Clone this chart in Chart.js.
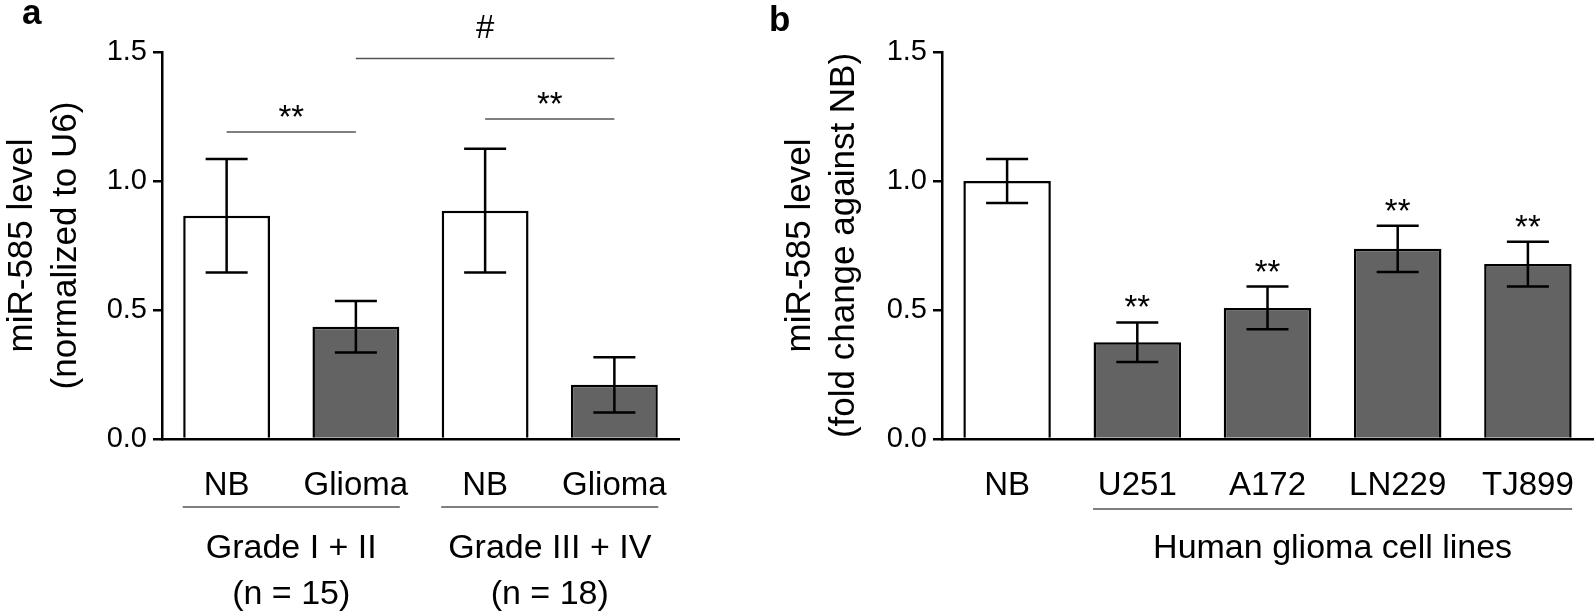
<!DOCTYPE html>
<html>
<head>
<meta charset="utf-8">
<script src="https://cdn.jsdelivr.net/npm/chart.js@4.4.1/dist/chart.umd.min.js"></script>
<style>
  html, body { margin: 0; padding: 0; background: #fff; }
  body { width: 1594px; height: 612px; position: relative; overflow: hidden; font-family: 'Liberation Sans', Arial, sans-serif; }
  .panel { position: absolute; top: 0; height: 612px; }
  .tag { position: absolute; font-weight: bold; font-size: 35px; line-height: 1; color: #000; }
</style>
</head>
<body>
<div class="panel" style="left:0; width:700px"><canvas id="chartA"></canvas></div>
<div class="panel" style="left:778px; width:816px"><canvas id="chartB"></canvas></div>
<div class="tag" style="left:22px; top:-6px">a</div>
<div class="tag" style="left:769px; top:1px">b</div>
<script>
// Panel a: miR-585 in tissue samples
const catsA = ['NB', 'Glioma', 'NB', 'Glioma'];
const meanA = [0.865, 0.435, 0.885, 0.21];
const errA = [0.22, 0.10, 0.24, 0.107];
const groupsA = [
  { from: 0, to: 1, lines: ['Grade I + II', '(n = 15)'] },
  { from: 2, to: 3, lines: ['Grade III + IV', '(n = 18)'] }
];
const sigA = [
  { from: 0, to: 1, y: 1.19, text: '**' },
  { from: 1, to: 3, y: 1.475, text: '#' },
  { from: 2, to: 3, y: 1.24, text: '**' }
];

// Panel b: miR-585 in cell lines
const catsB = ['NB', 'U251', 'A172', 'LN229', 'TJ899'];
const meanB = [1.0, 0.375, 0.508, 0.737, 0.678];
const errB = [0.085, 0.077, 0.083, 0.09, 0.087];
const starsB = ['', '**', '**', '**', '**'];
const groupsB = [{ from: 1, to: 4, lines: ['Human glioma cell lines'] }];

const yTicks = [0, 0.5, 1.0, 1.5];

const FONT = "'Liberation Sans', Arial, sans-serif";
Chart.defaults.font.family = FONT;
Chart.defaults.color = '#000';

const GRAY = '#636363';

// error bars (mean +/- err) drawn on top of the bars
const errorBars = {
  id: 'errorBars',
  afterDatasetsDraw(chart) {
    const ds = chart.data.datasets[0];
    const y = chart.scales.y;
    const ctx = chart.ctx;
    ctx.save();
    ctx.strokeStyle = '#000';
    ctx.lineWidth = 2.5;
    chart.getDatasetMeta(0).data.forEach((bar, i) => {
      const yt = y.getPixelForValue(ds.data[i] + ds.errors[i]);
      const yb = y.getPixelForValue(ds.data[i] - ds.errors[i]);
      ctx.beginPath();
      ctx.moveTo(bar.x, yt); ctx.lineTo(bar.x, yb);
      ctx.moveTo(bar.x - 21, yt); ctx.lineTo(bar.x + 21, yt);
      ctx.moveTo(bar.x - 21, yb); ctx.lineTo(bar.x + 21, yb);
      ctx.stroke();
      // stars over single bars
      if (ds.stars && ds.stars[i]) {
        ctx.fillStyle = '#000';
        ctx.font = '33px ' + FONT;
        ctx.textAlign = 'center';
        ctx.textBaseline = 'alphabetic';
        ctx.fillText(ds.stars[i], bar.x, yt - 4);
      }
    });
    ctx.restore();
  }
};

// brackets under the category labels
function groupPlugin(groups, lineGap) {
  return {
    id: 'groups',
    afterDraw(chart) {
      const x = chart.scales.x, ctx = chart.ctx;
      const bottom = chart.chartArea.bottom;
      const half = x.width / chart.data.labels.length * 0.34;
      ctx.save();
      groups.forEach(g => {
        const x0 = x.getPixelForValue(g.from) - half;
        const x1 = x.getPixelForValue(g.to) + half;
        ctx.strokeStyle = '#555';
        ctx.lineWidth = 1.5;
        ctx.beginPath();
        ctx.moveTo(x0, bottom + lineGap);
        ctx.lineTo(x1, bottom + lineGap);
        ctx.stroke();
        ctx.fillStyle = '#000';
        ctx.font = '34px ' + FONT;
        ctx.textAlign = 'center';
        ctx.textBaseline = 'alphabetic';
        g.lines.forEach((t, k) => {
          ctx.fillText(t, (x0 + x1) / 2, bottom + 119 + k * 46);
        });
      });
      ctx.restore();
    }
  };
}

// significance brackets between bars
function sigPlugin(marks) {
  return {
    id: 'sig',
    afterDraw(chart) {
      const x = chart.scales.x, y = chart.scales.y, ctx = chart.ctx;
      ctx.save();
      marks.forEach(m => {
        const x0 = x.getPixelForValue(m.from), x1 = x.getPixelForValue(m.to);
        const py = y.getPixelForValue(m.y);
        ctx.strokeStyle = '#555';
        ctx.lineWidth = 1.5;
        ctx.beginPath();
        ctx.moveTo(x0, py); ctx.lineTo(x1, py);
        ctx.stroke();
        ctx.fillStyle = '#000';
        ctx.font = '33px ' + FONT;
        ctx.textAlign = 'center';
        ctx.textBaseline = 'alphabetic';
        ctx.fillText(m.text, (x0 + x1) / 2, py - (m.text === '#' ? 20 : 4));
      });
      ctx.restore();
    }
  };
}

function makeChart(id, labels, means, errs, stars, yTitle, yWidth, padRight, plugins) {
  return new Chart(document.getElementById(id), {
    type: 'bar',
    data: {
      labels: labels,
      datasets: [{
        data: means,
        errors: errs,
        stars: stars,
        backgroundColor: labels.map(l => l === 'NB' ? '#fff' : GRAY),
        borderColor: '#000',
        borderWidth: 2.5,
        barPercentage: 0.672,
        categoryPercentage: 1
      }]
    },
    options: {
      responsive: true,
      maintainAspectRatio: false,
      animation: false,
      layout: { padding: { top: 52, right: padRight, left: 0, bottom: 0 } },
      plugins: { legend: { display: false }, tooltip: { enabled: false } },
      scales: {
        x: {
          afterFit: s => { s.height = 173; },
          ticks: { padding: 19, font: { size: 33 }, color: '#000', maxRotation: 0, autoSkip: false },
          grid: { display: false },
          border: { color: '#000', width: 2.5 }
        },
        y: {
          min: 0,
          max: 1.5,
          afterFit: s => { s.width = yWidth; },
          afterBuildTicks: s => { s.ticks = yTicks.map(v => ({ value: v })); },
          ticks: { padding: 6, font: { size: 29 }, color: '#000', callback: v => v.toFixed(1) },
          grid: { drawOnChartArea: false, tickLength: 9, color: '#000', lineWidth: 2.5 },
          border: { color: '#000', width: 2.5 },
          title: {
            display: true,
            text: yTitle,
            font: { size: 35, lineHeight: 1.257 },
            padding: 0,
            color: '#000'
          }
        }
      }
    },
    plugins: [errorBars].concat(plugins)
  });
}

makeChart('chartA', catsA, meanA, errA, null,
  ['miR-585 level', '(normalized to U6)'], 162, 21,
  [groupPlugin(groupsA, 68), sigPlugin(sigA)]);

makeChart('chartB', catsB, meanB, errB, starsB,
  ['miR-585 level', '(fold change against NB)'], 164, 1,
  [groupPlugin(groupsB, 70)]);
</script>
</body>
</html>
